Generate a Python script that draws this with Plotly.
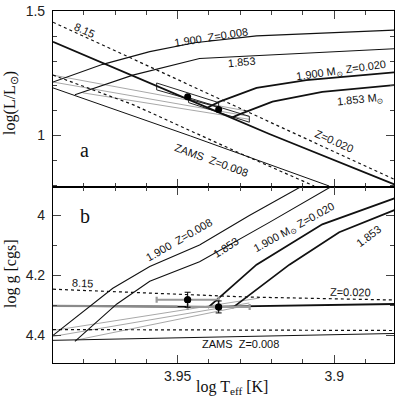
import plotly.graph_objects as go
from plotly.subplots import make_subplots

# ---------------- data (x = log Teff) ----------------
# Panel a : log(L/Lsun)
iso815_z020_T = [3.9898, 3.9366, 3.8803]
iso815_z020_L = [1.4565, 1.1482, 0.8202]
zams_z020_T = [3.9898, 3.9653, 3.9369, 3.9207, 3.8803]
zams_z020_L = [1.3775, 1.2470, 1.0929, 1.0059, 0.8004]
trk1900_z008_T = [3.9898, 3.9739, 3.9589, 3.9446, 3.9248, 3.9038, 3.8803]
trk1900_z008_L = [1.2154, 1.2866, 1.3379, 1.3735, 1.4012, 1.4130, 1.4249]
trk1853_z008_T = [3.9828, 3.9643, 3.9430, 3.9248, 3.9038, 3.8803]
trk1853_z008_L = [1.1640, 1.2431, 1.3103, 1.3221, 1.3340, 1.3498]
trk1900_z020_T = [3.9404, 3.9366, 3.9248, 3.9089, 3.8803]
trk1900_z020_L = [1.1126, 1.1364, 1.1917, 1.2233, 1.2549]
trk1853_z020_T = [3.9325, 3.9303, 3.9197, 3.9038, 3.8803]
trk1853_z020_L = [1.0731, 1.0850, 1.1364, 1.1759, 1.2036]
zams_z008_T = [3.9898, 3.9459, 3.9016]
zams_z008_L = [1.1917, 0.9980, 0.7964]
iso815_z008_T = [3.9898, 3.9643, 3.9312, 3.9064]
iso815_z008_L = [1.2431, 1.1245, 0.9348, 0.7964]
gray_a_T = [[3.9898, 3.9271], [3.9898, 3.9271], [3.9803, 3.9271]]
gray_a_L = [[1.2431, 1.0968], [1.2154, 1.0771], [1.1719, 1.0652]]
box1_T = [3.9567, 3.9567, 3.9369, 3.9369, 3.9567]
box1_L = [1.2115, 1.1838, 1.1126, 1.1324, 1.2115]
box2_T = [3.9465, 3.9465, 3.9271, 3.9271, 3.9465]
box2_L = [1.1522, 1.1324, 1.0534, 1.0771, 1.1522]
star_T = [3.9468, 3.9369]
star_L = [1.1561, 1.1047]

# Panel b : log g
iso815_z020_g_T = [3.9898, 3.9589, 3.9271, 3.8803]
iso815_z020_g = [4.2459, 4.2590, 4.2721, 4.2820]
zams_z020_g_T = [3.9898, 3.9404, 3.8803]
zams_z020_g = [4.3016, 4.3049, 4.2951]
zams_z020_g_grayT = [3.9898, 3.9500]
zams_z020_g_gray = [4.3016, 4.3036]
trk1900_z008_g_T = [3.9898, 3.9707, 3.9589, 3.9430, 3.9271, 3.9102]
trk1900_z008_g = [4.4000, 4.2426, 4.1705, 4.0984, 4.0000, 3.9016]
trk1853_z008_g_T = [3.9828, 3.9694, 3.9589, 3.9430, 3.9207, 3.9006]
trk1853_z008_g = [4.4197, 4.2951, 4.2197, 4.1541, 4.0230, 3.9016]
trk1900_z020_g_T = [3.9404, 3.9248, 3.9038, 3.8803]
trk1900_z020_g = [4.3082, 4.1639, 4.0295, 3.9410]
trk1853_z020_g_T = [3.9325, 3.9143, 3.8984, 3.8803]
trk1853_z020_g = [4.3082, 4.1639, 4.0557, 3.9803]
iso815_z008_g_T = [3.9898, 3.8803]
iso815_z008_g = [4.3803, 4.3836]
zams_z008_g_T = [3.9898, 3.8803]
zams_z008_g = [4.4164, 4.3934]
gray_b_T = [[3.9898, 3.9239], [3.9898, 3.9271], [3.9828, 3.9303]]
gray_b_g = [[4.3836, 4.2754], [4.4033, 4.2918], [4.4164, 4.3049]]
star_g = [4.281, 4.305]
star_g_err = [0.025, 0.02]
star_T_err = [0.0099, 0.0099]

# axis ticks
x_major = [3.95, 3.90]
x_major_text = ["3.95", "3.9"]
x_minor = [3.88, 3.89, 3.91, 3.92, 3.93, 3.94, 3.96, 3.97, 3.98, 3.99]
L_major = [1.0, 1.5]
L_major_text = ["1", "1.5"]
L_minor = [0.8, 0.9, 1.1, 1.2, 1.3, 1.4]
g_major = [4.0, 4.2, 4.4]
g_major_text = ["4", "4.2", "4.4"]
g_minor = [4.1, 4.3]

# ---------------- figure ----------------
fig = make_subplots(rows=2, cols=1, shared_xaxes=True, vertical_spacing=0)

BLACK = "#111111"
GRAY = "#a8a8a8"


def line(x, y, row, width=1.0, dash="solid", color=BLACK):
    fig.add_trace(go.Scatter(x=x, y=y, mode="lines", showlegend=False, hoverinfo="skip",
                             line=dict(color=color, width=width, dash=dash)), row=row, col=1)


# panel a
for gx, gy in zip(gray_a_T, gray_a_L):
    line(gx, gy, 1, width=1.0, color=GRAY)
line(iso815_z020_T, iso815_z020_L, 1, width=1.2, dash="dot")
line(iso815_z008_T, iso815_z008_L, 1, width=1.2, dash="dot")
line(zams_z008_T, zams_z008_L, 1, width=1.0)
line(zams_z020_T, zams_z020_L, 1, width=1.8)
line(trk1900_z008_T, trk1900_z008_L, 1, width=1.1)
line(trk1853_z008_T, trk1853_z008_L, 1, width=1.1)
line(trk1900_z020_T, trk1900_z020_L, 1, width=1.8)
line(trk1853_z020_T, trk1853_z020_L, 1, width=1.8)
line(box1_T, box1_L, 1, width=0.9)
line(box2_T, box2_L, 1, width=0.9)
fig.add_trace(go.Scatter(x=star_T, y=star_L, mode="markers", showlegend=False, hoverinfo="skip",
                         marker=dict(color="black", size=7)), row=1, col=1)

# panel b
for gx, gy in zip(gray_b_T, gray_b_g):
    line(gx, gy, 2, width=1.0, color=GRAY)
line(iso815_z020_g_T, iso815_z020_g, 2, width=1.2, dash="dot")
line(iso815_z008_g_T, iso815_z008_g, 2, width=1.2, dash="dot")
line(zams_z008_g_T, zams_z008_g, 2, width=1.0)
line(zams_z020_g_T, zams_z020_g, 2, width=1.8)
line(zams_z020_g_grayT, zams_z020_g_gray, 2, width=2.2, color="#8a8a8a")
line(trk1900_z008_g_T, trk1900_z008_g, 2, width=1.1)
line(trk1853_z008_g_T, trk1853_z008_g, 2, width=1.1)
line(trk1900_z020_g_T, trk1900_z020_g, 2, width=1.8)
line(trk1853_z020_g_T, trk1853_z020_g, 2, width=1.8)
fig.add_trace(go.Scatter(x=star_T, y=star_g, mode="markers", showlegend=False, hoverinfo="skip",
                         error_x=dict(type="data", array=star_T_err, color="#999999", thickness=2.2, width=3),
                         marker=dict(color="black", size=7)), row=2, col=1)
fig.add_trace(go.Scatter(x=star_T, y=star_g, mode="markers", showlegend=False, hoverinfo="skip",
                         error_y=dict(type="data", array=star_g_err, color="black", thickness=1, width=3),
                         marker=dict(color="black", size=7)), row=2, col=1)

TICKFONT = dict(family="Liberation Sans", size=14, color="#222")
axis_common = dict(showline=True, linecolor="black", linewidth=1.2, mirror="allticks",
                   ticks="inside", ticklen=8, tickwidth=1, tickcolor="#444",
                   showgrid=False, zeroline=False, tickfont=TICKFONT, ticklabeloverflow="allow",
                   minor=dict(ticks="inside", ticklen=4, tickcolor="#444", showgrid=False))

xr = [3.9898, 3.8809]
fig.update_xaxes(**axis_common)
fig.update_xaxes(range=xr, tickmode="array", tickvals=x_major, ticktext=x_major_text,
                 minor_tickmode="array", minor_tickvals=x_minor, ticklabelstandoff=0)
fig.update_xaxes(showticklabels=False, row=1, col=1)
fig.update_yaxes(**axis_common)
fig.update_yaxes(range=[0.7925, 1.5015], tickmode="array", tickvals=L_major, ticktext=L_major_text,
                 minor_tickmode="array", minor_tickvals=L_minor, ticklabelstandoff=4, row=1, col=1)
fig.update_yaxes(range=[4.492, 3.905], tickmode="array", tickvals=g_major, ticktext=g_major_text,
                 minor_tickmode="array", minor_tickvals=g_minor, ticklabelstandoff=4, row=2, col=1)

LBL = dict(family="Liberation Sans", size=11, color="#111")
labels = [
    # (text, x, y, angle, xref, yref)
    ("8.15", 3.9799, 1.4249, 25, "x", "y"),
    ("1.900  Z=0.008", 3.9392, 1.3972, -9, "x", "y"),
    ("1.853", 3.9296, 1.2945, -5, "x", "y"),
    ("1.900 M<sub>⊙</sub> Z=0.020", 3.8978, 1.2589, -8, "x", "y"),
    ("1.853 M<sub>⊙</sub>", 3.8917, 1.1443, -6, "x", "y"),
    ("Z=0.020", 3.9000, 0.9783, 24, "x", "y"),
    ("ZAMS  Z=0.008", 3.9392, 0.9032, 20, "x", "y"),
    ("8.15", 3.9803, 4.2262, 3, "x2", "y2"),
    ("Z=0.020", 3.8949, 4.2557, 1, "x2", "y2"),
    ("ZAMS  Z=0.008", 3.9299, 4.4295, 0, "x2", "y2"),
    ("1.900  Z=0.008", 3.9497, 4.0820, -30, "x2", "y2"),
    ("1.853", 3.9344, 4.1049, -33, "x2", "y2"),
    ("1.900 M<sub>⊙</sub> Z=0.020", 3.9128, 4.0410, -29, "x2", "y2"),
    ("1.853", 3.8890, 4.0690, -37, "x2", "y2"),
]
for t, x, y, a, xr_, yr_ in labels:
    fig.add_annotation(text=t, x=x, y=y, xref=xr_, yref=yr_, textangle=a, showarrow=False,
                       font=LBL, xanchor="center", yanchor="middle")

SERIF = dict(family="Liberation Serif", color="#111")
fig.add_annotation(text="a", x=3.9796, y=0.9427, xref="x", yref="y", showarrow=False,
                   font=dict(size=20, **SERIF))
fig.add_annotation(text="b", x=3.9796, y=4.0033, xref="x2", yref="y2", showarrow=False,
                   font=dict(size=20, **SERIF))
fig.add_annotation(text="log(L/L<sub>⊙</sub>)", x=-0.125, y=0.74, xref="paper", yref="paper",
                   textangle=-90, showarrow=False, font=dict(size=16, **SERIF),
                   xanchor="center", yanchor="middle")
fig.add_annotation(text="log g [cgs]", x=-0.125, y=0.254, xref="paper", yref="paper",
                   textangle=-90, showarrow=False, font=dict(size=16, **SERIF),
                   xanchor="center", yanchor="middle")
fig.add_annotation(text="log T<sub>eff</sub> [K]", x=0.526, y=-0.07, xref="paper", yref="paper",
                   showarrow=False, font=dict(size=16, **SERIF), xanchor="center", yanchor="middle")

fig.update_layout(width=398, height=404, margin=dict(l=53, r=3, t=5, b=41),
                  plot_bgcolor="white", paper_bgcolor="white", showlegend=False)

fig.write_html("out.html", config={"displayModeBar": False},
               post_script="document.body.style.margin='0';")
